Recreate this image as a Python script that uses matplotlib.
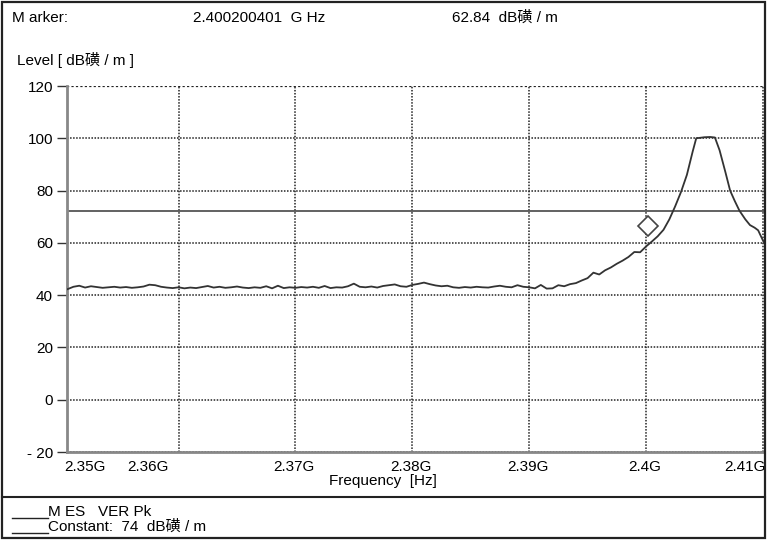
import matplotlib
matplotlib.use('Agg')
import matplotlib.pyplot as plt
from matplotlib.lines import Line2D
from matplotlib.patches import Rectangle

plt.rcParams['font.family'] = ['Liberation Sans', 'Noto Sans CJK SC', 'DejaVu Sans']

# noise floor, 0.5 MHz steps from 2350.5 to 2389.5 MHz
floor_freq = [2350.5 + 0.5 * i for i in range(79)]
floor_level = [42.3, 43.2, 43.6, 42.9, 43.4, 43.1, 42.8, 43.0, 43.2, 42.9,
               43.1, 42.8, 43.0, 43.3, 44.0, 43.8, 43.2, 42.9, 42.7, 43.0,
               42.6, 42.9, 42.7, 43.1, 43.5, 42.9, 43.2, 42.8, 43.0, 43.3,
               42.9, 42.7, 43.0, 42.8, 43.4, 42.6, 43.6, 42.7, 43.0, 42.8,
               43.1, 42.9, 43.2, 42.8, 43.5, 42.7, 43.0, 42.9, 43.4, 44.4,
               43.2, 43.0, 43.3, 42.9, 43.5, 43.8, 44.1, 43.4, 43.2, 43.9,
               44.3, 44.8, 44.2, 43.7, 43.4, 43.6, 43.0, 42.8, 43.1, 42.9,
               43.2, 43.0, 42.9, 43.3, 43.6, 43.2, 43.0, 43.8, 43.2]

# band edge + carrier
peak_freq = [2390.0, 2390.5, 2391.0, 2391.5, 2392.0, 2392.5, 2393.0, 2393.5,
             2394.0, 2394.5, 2395.0, 2395.5, 2396.0, 2396.5, 2397.0, 2397.5,
             2398.0, 2398.5, 2399.0, 2399.5, 2400.0, 2400.5, 2401.0, 2401.5,
             2402.0, 2402.5, 2403.0, 2403.5, 2404.0, 2404.3, 2405.0, 2405.5,
             2405.9, 2406.3, 2406.8, 2407.2, 2407.6, 2408.0, 2408.5, 2408.9,
             2409.3, 2409.6, 2410.0, 2410.3]
peak_level = [43.0, 42.6, 43.9, 42.5, 42.6, 43.8, 43.4, 44.2,
              44.6, 45.6, 46.5, 48.6, 47.9, 49.5, 50.6, 52.0,
              53.2, 54.6, 56.5, 56.4, 58.6, 60.5, 62.5, 65.0,
              69.0, 74.0, 79.5, 86.0, 95.0, 100.0, 100.4, 100.5,
              100.3, 95.4, 87.0, 80.0, 76.0, 72.3, 69.0, 66.8,
              65.8, 64.8, 61.0, 58.5]

freq = floor_freq + peak_freq
level = floor_level + peak_level

limit_level = 72           # horizontal limit line as drawn
marker_freq = 2400.2
marker_level = 66.5

x_ticks = [2350, 2360, 2370, 2380, 2390, 2400, 2410]
x_labels = ['2.35G', '2.36G', '2.37G', '2.38G', '2.39G', '2.4G', '2.41G']
y_ticks = [120, 100, 80, 60, 40, 20, 0, -20]
y_labels = ['120', '100', '80', '60', '40', '20', '0', '- 20']

W, H = 767, 541
fig = plt.figure(figsize=(W / 100, H / 100), dpi=100)
ax = fig.add_axes([67 / W, 1 - 452 / H, (764 - 67) / W, (452 - 86) / H])

xmin, xmax = 2350.45, 2410.1
ax.set_xlim(xmin, xmax)
ax.set_ylim(-20, 120)

# grid
for t in x_ticks[1:]:
    ax.axvline(t, color='#222222', lw=1.1, ls=(0, (1, 1)), zorder=1)
for t in y_ticks:
    ax.axhline(t, color='#222222', lw=1.1 if t != 120 else 1.6,
               ls=(0, (1, 1)), zorder=1)

ax.plot(freq, level, color='#333333', lw=1.3, zorder=3)
ax.axhline(limit_level, color='#555555', lw=1.3, zorder=2)
ax.plot([marker_freq], [marker_level], marker='D', ms=10, mfc='white',
        mec='#444444', mew=1.2, zorder=4)

for s in ['top', 'right']:
    ax.spines[s].set_visible(False)
for s in ['left', 'bottom']:
    ax.spines[s].set_color('#888888')
    ax.spines[s].set_linewidth(2)

ax.set_yticks(y_ticks)
ax.set_yticklabels(y_labels, fontsize=11)
ax.tick_params(axis='y', length=7, width=1, color='#333333', pad=3)
ax.set_xticks([])

# x tick labels, shifted as on the analyser printout
xt = ax.get_xaxis_transform()
for t, lab in zip(x_ticks, x_labels):
    if t == x_ticks[0]:
        ax.annotate(lab, (xmin, 0), xycoords=xt, xytext=(-2, -11),
                    textcoords='offset points', ha='left', va='center', fontsize=11)
    elif t == x_ticks[1]:
        ax.annotate(lab, (t, 0), xycoords=xt, xytext=(-22, -11),
                    textcoords='offset points', ha='center', va='center', fontsize=11)
    elif t == x_ticks[-1]:
        ax.annotate(lab, (xmax, 0), xycoords=xt, xytext=(1, -11),
                    textcoords='offset points', ha='right', va='center', fontsize=11)
    else:
        ax.annotate(lab, (t, 0), xycoords=xt, xytext=(-1, -11),
                    textcoords='offset points', ha='center', va='center', fontsize=11)

fig.text(383 / W, 1 - 481 / H, 'Frequency  [Hz]', ha='center', va='center', fontsize=11)

# header
fig.text(12 / W, 1 - 18 / H, 'M arker:', ha='left', va='center', fontsize=11)
fig.text(193 / W, 1 - 18 / H, '2.400200401  G Hz', ha='left', va='center', fontsize=11)
fig.text(452 / W, 1 - 18 / H, '62.84  dB磺 / m', ha='left', va='center', fontsize=11)
fig.text(17 / W, 1 - 60 / H, 'Level [ dB磺 / m ]', ha='left', va='center', fontsize=11)

# legend block
fig.add_artist(Line2D([2 / W, 765 / W], [1 - 497 / H] * 2, color='#222222', lw=1.5))
fig.add_artist(Line2D([12 / W, 48 / W], [1 - 518 / H] * 2, color='#222222', lw=1))
fig.add_artist(Line2D([12 / W, 48 / W], [1 - 533 / H] * 2, color='#222222', lw=1))
fig.text(48 / W, 1 - 512 / H, 'M ES   VER Pk', ha='left', va='center', fontsize=11)
fig.text(48 / W, 1 - 527 / H, 'Constant:  74  dB磺 / m', ha='left', va='center', fontsize=11)

# outer frame
fig.add_artist(Rectangle((2 / W, 1 - 538 / H), 763 / W, 536 / H, fill=False,
                         ec='#222222', lw=1.6))

fig.savefig('out.png', dpi=100)
